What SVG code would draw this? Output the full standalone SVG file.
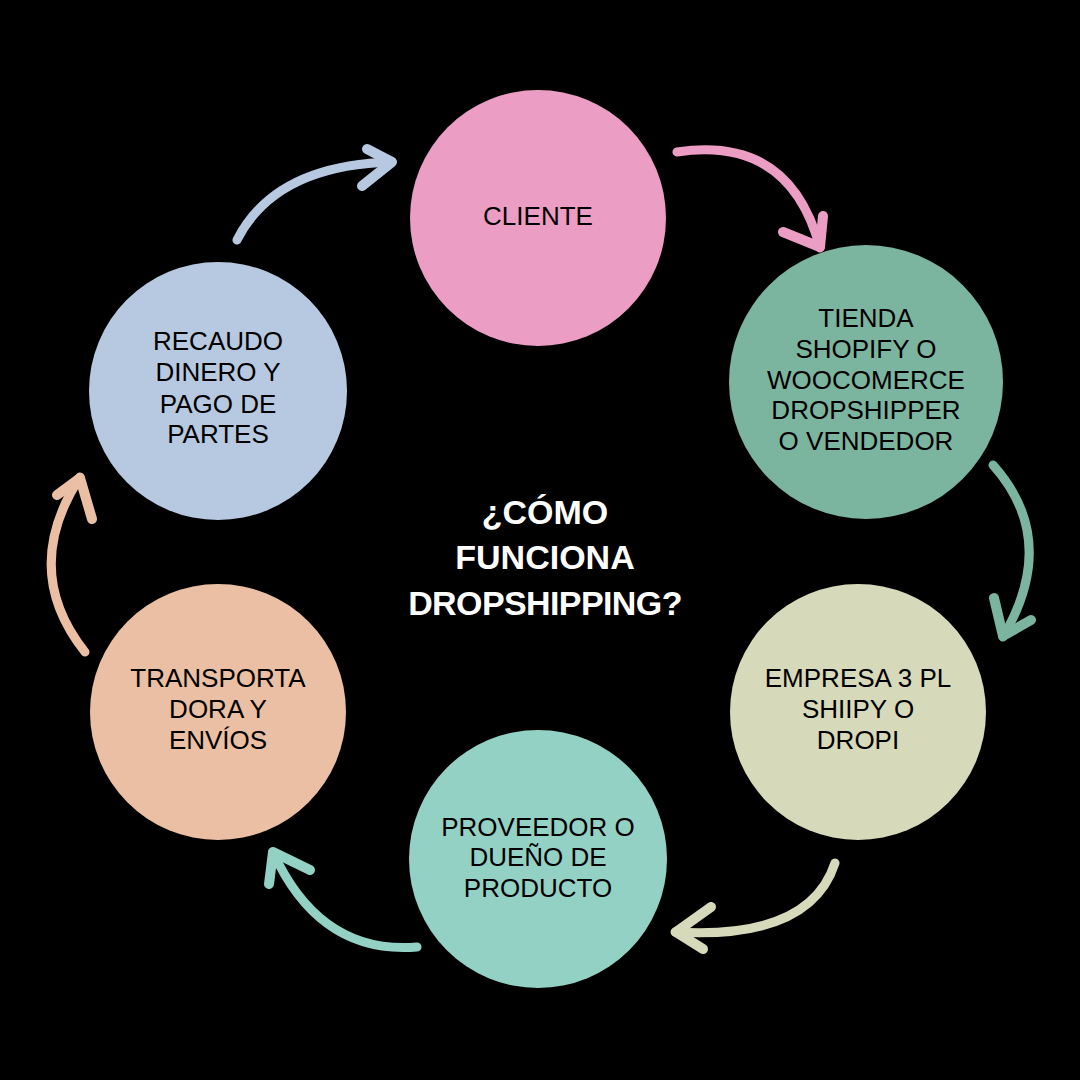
<svg xmlns="http://www.w3.org/2000/svg" width="1080" height="1080" viewBox="0 0 1080 1080">
<style>
.lbl{font-family:"Liberation Sans",Arial,sans-serif;font-size:26px;fill:#000;text-anchor:middle;dominant-baseline:central}
.title{font-family:"Liberation Sans",Arial,sans-serif;font-size:34px;font-weight:bold;fill:#fff;text-anchor:middle;dominant-baseline:central}
.shaft{fill:none;stroke-width:9;stroke-linecap:round;stroke-linejoin:round}
.head{fill:none;stroke-width:10;stroke-linecap:round;stroke-linejoin:round}
</style>
<rect width="1080" height="1080" fill="#000"/>
<g id="connectors">
<g stroke="#B6C9E0"><path class="shaft" d="M237,240 Q275,165 392,162"/><path class="head" d="M367,149 L392,162 L362,186"/></g>
<g stroke="#EC9DC4"><path class="shaft" d="M677,152 Q790,135 820,248"/><path class="head" d="M823,216 L820,247 L783,232"/></g>
<g stroke="#7BB5A0"><path class="shaft" d="M993,465 Q1060,540 1003,637"/><path class="head" d="M994,598 L1003,636 L1031,620"/></g>
<g stroke="#D6D9BA"><path class="shaft" d="M835,863 Q810,940 675,932"/><path class="head" d="M711,907 L676,932 L703,949"/></g>
<g stroke="#93D1C4"><path class="shaft" d="M417,947 Q320,955 273,852"/><path class="head" d="M310,870 L273,852 L269,884"/></g>
<g stroke="#EBBFA3"><path class="shaft" d="M85,652 Q20,570 80,477"/><path class="head" d="M57,495 L80,478 L92,519"/></g>
</g>
<g id="cliente"><circle cx="538" cy="218" r="128" fill="#EC9DC4"/><text class="lbl" x="538" y="216">CLIENTE</text></g>
<g id="tienda"><circle cx="866" cy="382" r="137" fill="#7BB5A0"/>
<text class="lbl" x="866" y="318">TIENDA</text><text class="lbl" x="866" y="349">SHOPIFY O</text><text class="lbl" x="866" y="380">WOOCOMERCE</text><text class="lbl" x="866" y="410">DROPSHIPPER</text><text class="lbl" x="866" y="441">O VENDEDOR</text></g>
<g id="empresa"><circle cx="858" cy="712" r="128" fill="#D6D9BA"/>
<text class="lbl" x="858" y="678">EMPRESA 3 PL</text><text class="lbl" x="858" y="709">SHIIPY O</text><text class="lbl" x="858" y="740">DROPI</text></g>
<g id="proveedor"><circle cx="538" cy="859" r="129" fill="#93D1C4"/>
<text class="lbl" x="538" y="827">PROVEEDOR O</text><text class="lbl" x="538" y="857">DUEÑO DE</text><text class="lbl" x="538" y="888">PRODUCTO</text></g>
<g id="transporta"><circle cx="218" cy="712" r="128" fill="#EBBFA3"/>
<text class="lbl" x="218" y="678">TRANSPORTA</text><text class="lbl" x="218" y="709">DORA Y</text><text class="lbl" x="218" y="740">ENVÍOS</text></g>
<g id="recaudo"><circle cx="218" cy="391" r="129" fill="#B6C9E0"/>
<text class="lbl" x="218" y="341">RECAUDO</text><text class="lbl" x="218" y="372">DINERO Y</text><text class="lbl" x="218" y="404">PAGO DE</text><text class="lbl" x="218" y="434">PARTES</text></g>
<g id="title"><text class="title" x="545" y="512">¿CÓMO</text><text class="title" x="545" y="557">FUNCIONA</text><text class="title" x="545" y="603" letter-spacing="-0.6">DROPSHIPPING?</text></g>
</svg>
